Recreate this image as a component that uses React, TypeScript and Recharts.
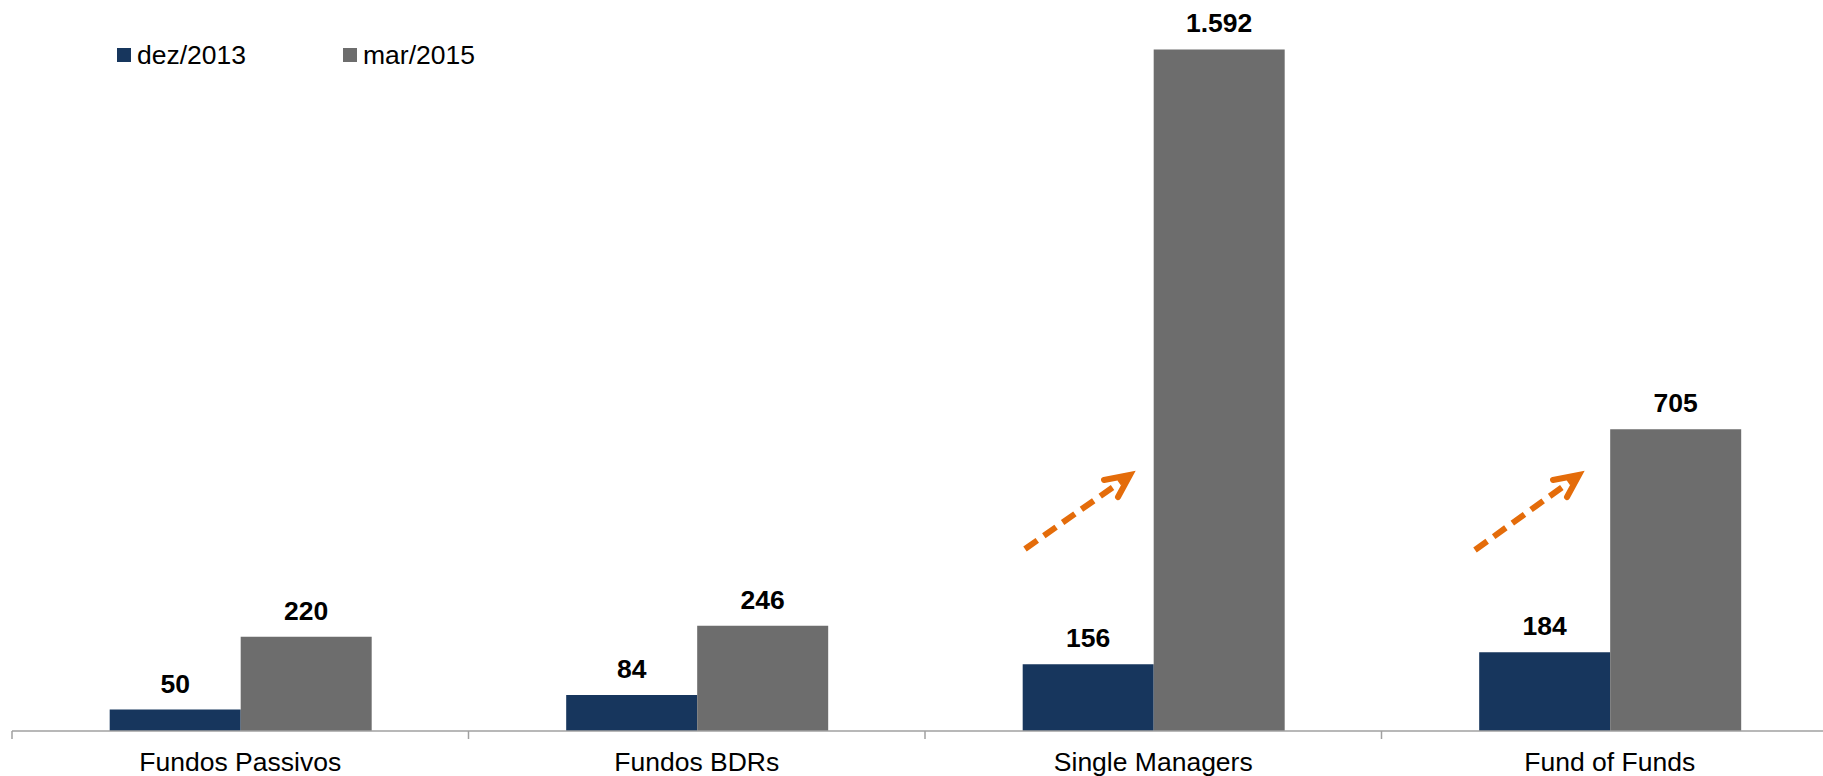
import { BarChart, Bar, XAxis, YAxis, Legend, LabelList } from 'recharts';

const categories = ['Fundos Passivos', 'Fundos BDRs', 'Single Managers', 'Fund of Funds'];
const dez2013 = [50, 84, 156, 184];
const mar2015 = [220, 246, 1592, 705];

const data = categories.map((name, i) => ({
  name,
  dez: dez2013[i],
  mar: mar2015[i],
}));

const FONT = '"Liberation Sans", Arial, sans-serif';
const NAVY = '#17365D';
const GRAY = '#6D6D6D';
const ORANGE = '#E46C0A';

// decorative arrows (pixel positions on the page)
const arrows = [
  { x1: 1025, y1: 549, x2: 1130, y2: 475 },
  { x1: 1475, y1: 550, x2: 1579, y2: 475 },
];

const fmt = (v: number) => String(v).replace(/\B(?=(\d{3})+(?!\d))/g, '.');

const ValueLabel = (props: any) => {
  const { x, y, width, value } = props;
  return (
    <text
      x={x + width / 2}
      y={y - 17}
      textAnchor="middle"
      fontFamily={FONT}
      fontSize={26.5}
      fontWeight="bold"
      fill="#000"
    >
      {fmt(value)}
    </text>
  );
};

const CategoryTick = (props: any) => {
  const { x, y, payload } = props;
  const half = payload.offset ?? 228;
  return (
    <g>
      <line x1={x - half} x2={x - half} y1={y} y2={y + 8} stroke="#A0A0A0" strokeWidth={1.5} />
      <text x={x} y={y + 40} textAnchor="middle" fontFamily={FONT} fontSize={26.5} fill="#000">
        {payload.value}
      </text>
    </g>
  );
};

const LegendContent = (props: any) => {
  const { payload } = props;
  return (
    <div style={{ display: 'flex', fontFamily: FONT, fontSize: 26.5, lineHeight: '30px' }}>
      {payload.map((p: any) => (
        <div key={p.value} style={{ display: 'flex', alignItems: 'center', width: 226 }}>
          <span style={{ width: 14, height: 14, background: p.color, marginRight: 6, display: 'inline-block' }} />
          <span style={{ color: '#000' }}>{p.value}</span>
        </div>
      ))}
    </div>
  );
};

export default function App() {
  return (
    <div style={{ position: 'absolute', left: 0, top: 0, width: 1823, height: 776, overflow: 'hidden', background: '#fff' }}>
      <BarChart
        width={1850}
        height={776}
        data={data}
        margin={{ top: 46, right: 12, bottom: 0, left: 12 }}
        barCategoryGap="21.4%"
        barGap={0}
      >
        <XAxis
          dataKey="name"
          height={45}
          axisLine={{ stroke: '#A0A0A0', strokeWidth: 1.5 }}
          tickLine={false}
          tickSize={0}
          tickMargin={0}
          interval={0}
          tick={<CategoryTick />}
        />
        <YAxis hide domain={[0, 1600]} />
        <Legend
          layout="horizontal"
          verticalAlign="middle"
          align="center"
          content={<LegendContent />}
          wrapperStyle={{ top: 40, left: 117, width: 'auto', height: 'auto' }}
        />
        <Bar dataKey="dez" name="dez/2013" fill={NAVY} isAnimationActive={false}>
          <LabelList dataKey="dez" content={<ValueLabel />} />
        </Bar>
        <Bar dataKey="mar" name="mar/2015" fill={GRAY} isAnimationActive={false}>
          <LabelList dataKey="mar" content={<ValueLabel />} />
        </Bar>
      </BarChart>
      <svg
        width={1823}
        height={776}
        style={{ position: 'absolute', left: 0, top: 0, pointerEvents: 'none' }}
      >
        {arrows.map((a, i) => (
          <g key={i} stroke={ORANGE} strokeWidth={6} fill="none">
            <line x1={a.x1} y1={a.y1} x2={a.x2 - 4} y2={a.y2 + 3} strokeDasharray="15 8" />
            <polyline
              points={`${a.x2 - 26},${a.y2 + 5} ${a.x2},${a.y2} ${a.x2 - 12},${a.y2 + 22}`}
              strokeLinecap="round"
              strokeLinejoin="miter"
            />
          </g>
        ))}
      </svg>
    </div>
  );
}
